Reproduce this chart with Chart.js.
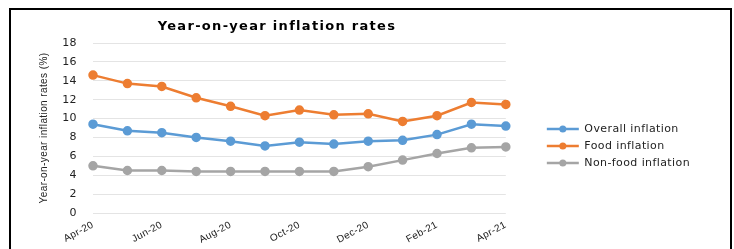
<!DOCTYPE html>
<html>
<head>
<meta charset="utf-8">
<script src="https://cdn.jsdelivr.net/npm/chart.js@4.4.0/dist/chart.umd.min.js"></script>
<style>
  body { margin: 0; background: #fff; }
  #wrap { position: relative; width: 734px; height: 249px; }
  #frame { position: absolute; left: 9px; top: 8px; width: 719px; height: 260px; border: 2px solid #000; pointer-events: none; }
</style>
</head>
<body>
<div id="wrap">
  <canvas id="inflationChart" width="734" height="249"></canvas>
  <div id="frame"></div>
</div>
<script>
const months = ['Apr-20', 'May-20', 'Jun-20', 'Jul-20', 'Aug-20', 'Sep-20', 'Oct-20',
    'Nov-20', 'Dec-20', 'Jan-21', 'Feb-21', 'Mar-21', 'Apr-21'];
const overallInflation = [9.4, 8.7, 8.5, 8.0, 7.6, 7.1, 7.5, 7.3, 7.6, 7.7, 8.3, 9.4, 9.2];
const foodInflation = [14.6, 13.7, 13.4, 12.2, 11.3, 10.3, 10.9, 10.4, 10.5, 9.7, 10.3, 11.7, 11.5];
const nonFoodInflation = [5.0, 4.5, 4.5, 4.4, 4.4, 4.4, 4.4, 4.4, 4.9, 5.6, 6.3, 6.9, 7.0];

const chartTitle = 'Year-on-year inflation rates';
const yAxisTitle = 'Year-on-year inflation rates (%)';

makeSeries = (label, data, color) => {
    return {
        label: label,
        data: data,
        borderColor: color,
        backgroundColor: color,
        pointBackgroundColor: color,
        pointBorderColor: color,
        borderWidth: 2.5,
        pointRadius: 3.5,
        tension: 0
    };
};

// the original text looks stretched sideways, so space the letters a bit
const wideText = {
    id: 'wideText',
    beforeUpdate: (chart) => { chart.ctx.letterSpacing = '0.4px'; },
    beforeDraw: (chart) => { chart.ctx.letterSpacing = '0.4px'; }
};

// title sits a bit left of the plot centre in the original
const titlePlugin = {
    id: 'titlePlugin',
    afterDraw: (chart) => {
        const ctx = chart.ctx;
        ctx.save();
        ctx.font = 'bold 13px "DejaVu Sans"';
        ctx.letterSpacing = '1.3px';
        ctx.fillStyle = '#000';
        ctx.textAlign = 'center';
        ctx.textBaseline = 'middle';
        ctx.fillText(chartTitle, 277, 27);
        ctx.restore();
    }
};

// dot in the middle of each legend line
const legendDots = {
    id: 'legendDots',
    afterDraw: (chart) => {
        const legend = chart.legend;
        const ctx = chart.ctx;
        const bw = legend.options.labels.boxWidth;
        legend.legendHitBoxes.forEach((hb, i) => {
            const item = legend.legendItems[i];
            ctx.save();
            ctx.fillStyle = item.fillStyle;
            ctx.beginPath();
            ctx.arc(hb.left + bw / 2, hb.top + hb.height / 2, 3.5, 0, Math.PI * 2);
            ctx.fill();
            ctx.restore();
        });
    }
};

var ctx = document.getElementById('inflationChart').getContext('2d');
var inflationChart = new Chart(ctx, {
    type: 'line',
    data: {
        labels: months,
        datasets: [
            makeSeries('Overall inflation', overallInflation, '#5B9BD5'),
            makeSeries('Food inflation', foodInflation, '#ED7D31'),
            makeSeries('Non-food inflation', nonFoodInflation, '#A5A5A5')
        ]
    },
    options: {
        responsive: false,
        animation: false,
        layout: { padding: { left: 0, right: 34, top: 43, bottom: 0 } },
        plugins: {
            title: { display: false },
            tooltip: { enabled: false },
            legend: {
                position: 'right',
                align: 'center',
                maxWidth: 300,
                labels: {
                    boxWidth: 32,
                    boxHeight: 2.5,
                    padding: 6,
                    color: '#222',
                    font: { family: '"DejaVu Sans"', size: 11 },
                    generateLabels: (chart) => Chart.defaults.plugins.legend.labels.generateLabels(chart)
                        .map(l => Object.assign(l, { lineWidth: 0 }))
                }
            }
        },
        scales: {
            x: {
                grid: { display: false, drawTicks: false },
                border: { display: false },
                ticks: {
                    autoSkip: false,
                    minRotation: 28,
                    maxRotation: 28,
                    padding: 6,
                    color: '#222',
                    font: { family: '"Liberation Sans"', size: 10 },
                    callback: (v, i) => (i % 2 === 0 ? months[i] : '')
                },
                afterFit: (scale) => { scale.height = 36; }
            },
            y: {
                min: 0,
                max: 18,
                ticks: {
                    stepSize: 2,
                    padding: 16,
                    color: '#222',
                    font: { family: '"DejaVu Sans"', size: 11 }
                },
                grid: { color: '#e4e4e4', drawTicks: false },
                border: { display: false },
                title: {
                    display: true,
                    text: yAxisTitle,
                    color: '#222',
                    font: { family: '"Liberation Sans"', size: 10 },
                    padding: { top: 38, bottom: 0 }
                },
                afterFit: (scale) => { scale.width = 93; }
            },
            gap: {
                type: 'linear',
                position: 'right',
                display: true,
                ticks: { display: false },
                grid: { display: false },
                border: { display: false },
                afterFit: (scale) => { scale.width = 35; }
            }
        }
    },
    plugins: [wideText, titlePlugin, legendDots]
});
</script>
</body>
</html>
